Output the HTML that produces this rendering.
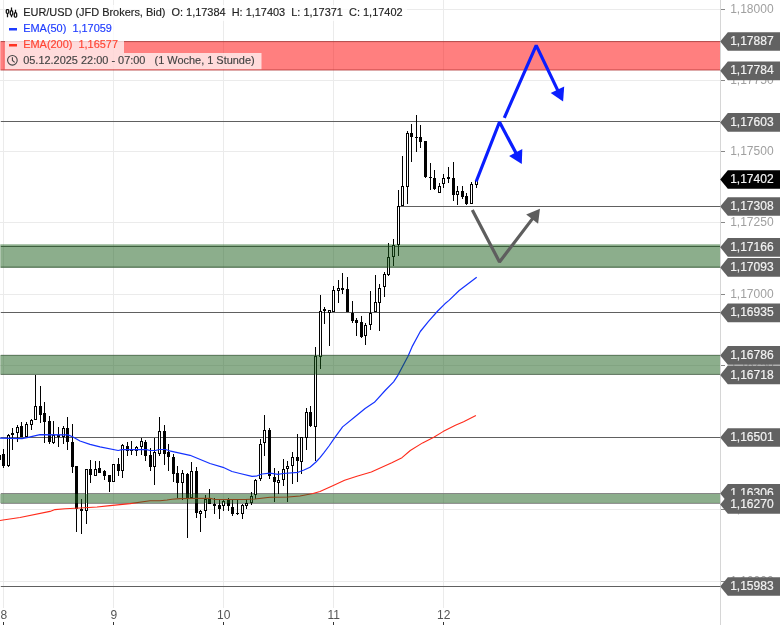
<!DOCTYPE html><html><head><meta charset="utf-8"><title>EUR/USD</title><style>
html,body{margin:0;padding:0;background:#fff;}body{width:780px;height:625px;overflow:hidden;position:relative;font-family:"Liberation Sans",sans-serif;}
svg{position:absolute;left:0;top:0;opacity:0.999;will-change:transform;}text{font-family:"Liberation Sans",sans-serif;}
</style></head><body>
<svg width="780" height="625" viewBox="0 0 780 625">
<rect width="780" height="625" fill="#fff"/>
<g shape-rendering="crispEdges" fill="#ebebeb">
<rect x="3" y="0" width="1" height="608"/>
<rect x="113" y="0" width="1" height="608"/>
<rect x="223" y="0" width="1" height="608"/>
<rect x="333" y="0" width="1" height="608"/>
<rect x="443" y="0" width="1" height="608"/>
<rect x="0" y="9" width="720" height="1"/>
<rect x="0" y="80" width="720" height="1"/>
<rect x="0" y="151" width="720" height="1"/>
<rect x="0" y="222" width="720" height="1"/>
<rect x="0" y="294" width="720" height="1"/>
<rect x="0" y="365" width="720" height="1"/>
<rect x="0" y="437" width="720" height="1"/>
<rect x="0" y="509" width="720" height="1"/>
<rect x="0" y="581" width="720" height="1"/>
</g>
<g shape-rendering="crispEdges" fill="#d6d6d6">
<rect x="720" y="0" width="1" height="625"/>
</g>
<g shape-rendering="crispEdges" fill="#888">
<rect x="721" y="9" width="4" height="1"/>
<rect x="721" y="80" width="4" height="1"/>
<rect x="721" y="151" width="4" height="1"/>
<rect x="721" y="222" width="4" height="1"/>
<rect x="721" y="294" width="4" height="1"/>
<rect x="721" y="365" width="4" height="1"/>
<rect x="721" y="437" width="4" height="1"/>
<rect x="721" y="509" width="4" height="1"/>
<rect x="721" y="581" width="4" height="1"/>
</g>
<g font-size="12" fill="#a0a0a0">
<text x="730.2" y="12.6">1,18000</text>
<text x="730.2" y="83.6">1,17750</text>
<text x="730.2" y="154.6">1,17500</text>
<text x="730.2" y="225.6">1,17250</text>
<text x="730.2" y="297.6">1,17000</text>
<text x="730.2" y="368.6">1,16750</text>
<text x="730.2" y="440.6">1,16500</text>
<text x="730.2" y="512.6">1,16250</text>
<text x="730.2" y="584.6">1,16000</text>
</g>
<g stroke="#606060">
<line x1="0.8" y1="41.6" x2="720" y2="41.6" stroke-width="0.9" stroke="#6e6e6e"/>
<line x1="0.8" y1="69.9" x2="720" y2="69.9" stroke-width="0.9" stroke="#8c8c8c"/>
<line x1="0.8" y1="121.5" x2="720" y2="121.5" stroke-width="1.1" stroke="#606060"/>
<line x1="397.5" y1="206.5" x2="720" y2="206.5" stroke-width="1.1" stroke="#606060"/>
<line x1="0.8" y1="246.5" x2="720" y2="246.5" stroke-width="1.1" stroke="#606060"/>
<line x1="0.8" y1="267.1" x2="720" y2="267.1" stroke-width="0.9" stroke="#606060"/>
<line x1="0.8" y1="312.5" x2="720" y2="312.5" stroke-width="1.1" stroke="#606060"/>
<line x1="0.8" y1="355.3" x2="720" y2="355.3" stroke-width="0.8" stroke="#606060"/>
<line x1="0.8" y1="374.4" x2="720" y2="374.4" stroke-width="0.8" stroke="#606060"/>
<line x1="0.8" y1="437.5" x2="720" y2="437.5" stroke-width="1.1" stroke="#606060"/>
<line x1="0.8" y1="493.5" x2="720" y2="493.5" stroke-width="0.9" stroke="#787878"/>
<line x1="0.8" y1="503.4" x2="720" y2="503.4" stroke-width="0.9" stroke="#787878"/>
<line x1="0.8" y1="586.5" x2="720" y2="586.5" stroke-width="1.1" stroke="#606060"/>
</g>
<g shape-rendering="crispEdges">
<rect x="-1" y="455" width="1" height="5" fill="#000"/>
<rect x="-2" y="455" width="3" height="5" fill="#000"/>
<rect x="3" y="449" width="1" height="19" fill="#000"/>
<rect x="2" y="454" width="3" height="12" fill="#000"/>
<rect x="8" y="434" width="1" height="33" fill="#000"/>
<rect x="7" y="435" width="3" height="31" fill="#000"/>
<rect x="8" y="436" width="1" height="29" fill="#fff"/>
<rect x="12" y="428" width="1" height="22" fill="#000"/>
<rect x="11" y="433" width="3" height="2" fill="#000"/>
<rect x="17" y="425" width="1" height="17" fill="#000"/>
<rect x="16" y="427" width="3" height="6" fill="#000"/>
<rect x="17" y="428" width="1" height="4" fill="#fff"/>
<rect x="21" y="422" width="1" height="15" fill="#000"/>
<rect x="20" y="426" width="3" height="11" fill="#000"/>
<rect x="26" y="422" width="1" height="15" fill="#000"/>
<rect x="25" y="424" width="3" height="13" fill="#000"/>
<rect x="26" y="425" width="1" height="11" fill="#fff"/>
<rect x="31" y="419" width="1" height="11" fill="#000"/>
<rect x="30" y="420" width="3" height="5" fill="#000"/>
<rect x="31" y="421" width="1" height="3" fill="#fff"/>
<rect x="35" y="375" width="1" height="45" fill="#000"/>
<rect x="34" y="406" width="3" height="14" fill="#000"/>
<rect x="35" y="407" width="1" height="12" fill="#fff"/>
<rect x="40" y="386" width="1" height="37" fill="#000"/>
<rect x="39" y="406" width="3" height="9" fill="#000"/>
<rect x="44" y="402" width="1" height="41" fill="#000"/>
<rect x="43" y="413" width="3" height="9" fill="#000"/>
<rect x="49" y="416" width="1" height="28" fill="#000"/>
<rect x="48" y="421" width="3" height="21" fill="#000"/>
<rect x="53" y="421" width="1" height="23" fill="#000"/>
<rect x="52" y="435" width="3" height="8" fill="#000"/>
<rect x="53" y="436" width="1" height="6" fill="#fff"/>
<rect x="58" y="427" width="1" height="20" fill="#000"/>
<rect x="57" y="435" width="3" height="2" fill="#000"/>
<rect x="63" y="426" width="1" height="18" fill="#000"/>
<rect x="62" y="428" width="3" height="9" fill="#000"/>
<rect x="63" y="429" width="1" height="7" fill="#fff"/>
<rect x="67" y="417" width="1" height="33" fill="#000"/>
<rect x="66" y="428" width="3" height="14" fill="#000"/>
<rect x="72" y="424" width="1" height="49" fill="#000"/>
<rect x="71" y="442" width="3" height="25" fill="#000"/>
<rect x="76" y="466" width="1" height="66" fill="#000"/>
<rect x="75" y="466" width="3" height="43" fill="#000"/>
<rect x="81" y="499" width="1" height="35" fill="#000"/>
<rect x="80" y="509" width="3" height="2" fill="#000"/>
<rect x="86" y="469" width="1" height="55" fill="#000"/>
<rect x="85" y="469" width="3" height="42" fill="#000"/>
<rect x="86" y="470" width="1" height="40" fill="#fff"/>
<rect x="90" y="460" width="1" height="23" fill="#000"/>
<rect x="89" y="469" width="3" height="6" fill="#000"/>
<rect x="95" y="461" width="1" height="15" fill="#000"/>
<rect x="94" y="469" width="3" height="7" fill="#000"/>
<rect x="95" y="470" width="1" height="5" fill="#fff"/>
<rect x="99" y="461" width="1" height="12" fill="#000"/>
<rect x="98" y="468" width="3" height="5" fill="#000"/>
<rect x="104" y="470" width="1" height="10" fill="#000"/>
<rect x="103" y="471" width="3" height="5" fill="#000"/>
<rect x="109" y="475" width="1" height="17" fill="#000"/>
<rect x="108" y="475" width="3" height="7" fill="#000"/>
<rect x="113" y="464" width="1" height="18" fill="#000"/>
<rect x="112" y="464" width="3" height="18" fill="#000"/>
<rect x="113" y="465" width="1" height="16" fill="#fff"/>
<rect x="118" y="458" width="1" height="18" fill="#000"/>
<rect x="117" y="464" width="3" height="7" fill="#000"/>
<rect x="122" y="444" width="1" height="34" fill="#000"/>
<rect x="121" y="445" width="3" height="26" fill="#000"/>
<rect x="122" y="446" width="1" height="24" fill="#fff"/>
<rect x="127" y="442" width="1" height="14" fill="#000"/>
<rect x="126" y="446" width="3" height="5" fill="#000"/>
<rect x="131" y="441" width="1" height="14" fill="#000"/>
<rect x="130" y="449" width="3" height="2" fill="#000"/>
<rect x="136" y="446" width="1" height="10" fill="#000"/>
<rect x="135" y="447" width="3" height="4" fill="#000"/>
<rect x="136" y="448" width="1" height="2" fill="#fff"/>
<rect x="141" y="438" width="1" height="17" fill="#000"/>
<rect x="140" y="441" width="3" height="6" fill="#000"/>
<rect x="141" y="442" width="1" height="4" fill="#fff"/>
<rect x="145" y="440" width="1" height="21" fill="#000"/>
<rect x="144" y="442" width="3" height="14" fill="#000"/>
<rect x="150" y="448" width="1" height="23" fill="#000"/>
<rect x="149" y="455" width="3" height="12" fill="#000"/>
<rect x="154" y="438" width="1" height="47" fill="#000"/>
<rect x="153" y="452" width="3" height="15" fill="#000"/>
<rect x="154" y="453" width="1" height="13" fill="#fff"/>
<rect x="159" y="417" width="1" height="39" fill="#000"/>
<rect x="158" y="431" width="3" height="23" fill="#000"/>
<rect x="159" y="432" width="1" height="21" fill="#fff"/>
<rect x="164" y="425" width="1" height="40" fill="#000"/>
<rect x="163" y="431" width="3" height="23" fill="#000"/>
<rect x="168" y="444" width="1" height="27" fill="#000"/>
<rect x="167" y="452" width="3" height="5" fill="#000"/>
<rect x="173" y="454" width="1" height="28" fill="#000"/>
<rect x="172" y="457" width="3" height="17" fill="#000"/>
<rect x="177" y="466" width="1" height="32" fill="#000"/>
<rect x="176" y="473" width="3" height="10" fill="#000"/>
<rect x="182" y="470" width="1" height="30" fill="#000"/>
<rect x="181" y="473" width="3" height="10" fill="#000"/>
<rect x="182" y="474" width="1" height="8" fill="#fff"/>
<rect x="187" y="473" width="1" height="65" fill="#000"/>
<rect x="186" y="474" width="3" height="25" fill="#000"/>
<rect x="191" y="462" width="1" height="36" fill="#000"/>
<rect x="190" y="471" width="3" height="27" fill="#000"/>
<rect x="191" y="472" width="1" height="25" fill="#fff"/>
<rect x="196" y="467" width="1" height="51" fill="#000"/>
<rect x="195" y="471" width="3" height="42" fill="#000"/>
<rect x="200" y="510" width="1" height="22" fill="#000"/>
<rect x="199" y="511" width="3" height="3" fill="#000"/>
<rect x="200" y="512" width="1" height="1" fill="#fff"/>
<rect x="205" y="495" width="1" height="23" fill="#000"/>
<rect x="204" y="499" width="3" height="12" fill="#000"/>
<rect x="205" y="500" width="1" height="10" fill="#fff"/>
<rect x="209" y="489" width="1" height="15" fill="#000"/>
<rect x="208" y="499" width="3" height="5" fill="#000"/>
<rect x="214" y="498" width="1" height="16" fill="#000"/>
<rect x="213" y="504" width="3" height="2" fill="#000"/>
<rect x="219" y="500" width="1" height="19" fill="#000"/>
<rect x="218" y="505" width="3" height="4" fill="#000"/>
<rect x="223" y="500" width="1" height="11" fill="#000"/>
<rect x="222" y="501" width="3" height="5" fill="#000"/>
<rect x="223" y="502" width="1" height="3" fill="#fff"/>
<rect x="228" y="498" width="1" height="13" fill="#000"/>
<rect x="227" y="500" width="3" height="6" fill="#000"/>
<rect x="232" y="500" width="1" height="16" fill="#000"/>
<rect x="231" y="507" width="3" height="7" fill="#000"/>
<rect x="237" y="500" width="1" height="15" fill="#000"/>
<rect x="236" y="513" width="3" height="1" fill="#000"/>
<rect x="242" y="504" width="1" height="15" fill="#000"/>
<rect x="241" y="505" width="3" height="9" fill="#000"/>
<rect x="242" y="506" width="1" height="7" fill="#fff"/>
<rect x="246" y="499" width="1" height="10" fill="#000"/>
<rect x="245" y="503" width="3" height="3" fill="#000"/>
<rect x="246" y="504" width="1" height="1" fill="#fff"/>
<rect x="251" y="492" width="1" height="13" fill="#000"/>
<rect x="250" y="496" width="3" height="7" fill="#000"/>
<rect x="251" y="497" width="1" height="5" fill="#fff"/>
<rect x="255" y="479" width="1" height="20" fill="#000"/>
<rect x="254" y="480" width="3" height="15" fill="#000"/>
<rect x="255" y="481" width="1" height="13" fill="#fff"/>
<rect x="260" y="439" width="1" height="42" fill="#000"/>
<rect x="259" y="444" width="3" height="35" fill="#000"/>
<rect x="260" y="445" width="1" height="33" fill="#fff"/>
<rect x="264" y="415" width="1" height="41" fill="#000"/>
<rect x="263" y="430" width="3" height="13" fill="#000"/>
<rect x="264" y="431" width="1" height="11" fill="#fff"/>
<rect x="269" y="428" width="1" height="51" fill="#000"/>
<rect x="268" y="430" width="3" height="46" fill="#000"/>
<rect x="274" y="468" width="1" height="34" fill="#000"/>
<rect x="273" y="477" width="3" height="5" fill="#000"/>
<rect x="278" y="471" width="1" height="23" fill="#000"/>
<rect x="277" y="480" width="3" height="3" fill="#000"/>
<rect x="278" y="481" width="1" height="1" fill="#fff"/>
<rect x="283" y="459" width="1" height="27" fill="#000"/>
<rect x="282" y="469" width="3" height="11" fill="#000"/>
<rect x="283" y="470" width="1" height="9" fill="#fff"/>
<rect x="287" y="461" width="1" height="41" fill="#000"/>
<rect x="286" y="466" width="3" height="3" fill="#000"/>
<rect x="287" y="467" width="1" height="1" fill="#fff"/>
<rect x="292" y="452" width="1" height="32" fill="#000"/>
<rect x="291" y="457" width="3" height="9" fill="#000"/>
<rect x="292" y="458" width="1" height="7" fill="#fff"/>
<rect x="297" y="434" width="1" height="48" fill="#000"/>
<rect x="296" y="457" width="3" height="4" fill="#000"/>
<rect x="301" y="437" width="1" height="37" fill="#000"/>
<rect x="300" y="437" width="3" height="25" fill="#000"/>
<rect x="301" y="438" width="1" height="23" fill="#fff"/>
<rect x="306" y="408" width="1" height="42" fill="#000"/>
<rect x="305" y="412" width="3" height="26" fill="#000"/>
<rect x="306" y="413" width="1" height="24" fill="#fff"/>
<rect x="310" y="406" width="1" height="21" fill="#000"/>
<rect x="309" y="412" width="3" height="14" fill="#000"/>
<rect x="315" y="347" width="1" height="114" fill="#000"/>
<rect x="314" y="356" width="3" height="71" fill="#000"/>
<rect x="315" y="357" width="1" height="69" fill="#fff"/>
<rect x="320" y="295" width="1" height="74" fill="#000"/>
<rect x="319" y="311" width="3" height="46" fill="#000"/>
<rect x="320" y="312" width="1" height="44" fill="#fff"/>
<rect x="324" y="307" width="1" height="17" fill="#000"/>
<rect x="323" y="309" width="3" height="2" fill="#000"/>
<rect x="329" y="310" width="1" height="36" fill="#000"/>
<rect x="328" y="310" width="3" height="3" fill="#000"/>
<rect x="329" y="311" width="1" height="1" fill="#fff"/>
<rect x="333" y="286" width="1" height="26" fill="#000"/>
<rect x="332" y="290" width="3" height="22" fill="#000"/>
<rect x="333" y="291" width="1" height="20" fill="#fff"/>
<rect x="338" y="280" width="1" height="23" fill="#000"/>
<rect x="337" y="288" width="3" height="3" fill="#000"/>
<rect x="338" y="289" width="1" height="1" fill="#fff"/>
<rect x="342" y="273" width="1" height="21" fill="#000"/>
<rect x="341" y="288" width="3" height="2" fill="#000"/>
<rect x="347" y="277" width="1" height="35" fill="#000"/>
<rect x="346" y="289" width="3" height="23" fill="#000"/>
<rect x="352" y="301" width="1" height="22" fill="#000"/>
<rect x="351" y="313" width="3" height="8" fill="#000"/>
<rect x="356" y="318" width="1" height="18" fill="#000"/>
<rect x="355" y="320" width="3" height="3" fill="#000"/>
<rect x="361" y="316" width="1" height="22" fill="#000"/>
<rect x="360" y="322" width="3" height="15" fill="#000"/>
<rect x="365" y="323" width="1" height="22" fill="#000"/>
<rect x="364" y="325" width="3" height="11" fill="#000"/>
<rect x="365" y="326" width="1" height="9" fill="#fff"/>
<rect x="370" y="291" width="1" height="39" fill="#000"/>
<rect x="369" y="313" width="3" height="12" fill="#000"/>
<rect x="370" y="314" width="1" height="10" fill="#fff"/>
<rect x="375" y="275" width="1" height="37" fill="#000"/>
<rect x="374" y="302" width="3" height="10" fill="#000"/>
<rect x="375" y="303" width="1" height="8" fill="#fff"/>
<rect x="379" y="284" width="1" height="47" fill="#000"/>
<rect x="378" y="288" width="3" height="15" fill="#000"/>
<rect x="379" y="289" width="1" height="13" fill="#fff"/>
<rect x="384" y="272" width="1" height="25" fill="#000"/>
<rect x="383" y="274" width="3" height="13" fill="#000"/>
<rect x="384" y="275" width="1" height="11" fill="#fff"/>
<rect x="388" y="243" width="1" height="33" fill="#000"/>
<rect x="387" y="257" width="3" height="18" fill="#000"/>
<rect x="388" y="258" width="1" height="16" fill="#fff"/>
<rect x="393" y="239" width="1" height="27" fill="#000"/>
<rect x="392" y="245" width="3" height="12" fill="#000"/>
<rect x="393" y="246" width="1" height="10" fill="#fff"/>
<rect x="398" y="190" width="1" height="66" fill="#000"/>
<rect x="397" y="206" width="3" height="39" fill="#000"/>
<rect x="398" y="207" width="1" height="37" fill="#fff"/>
<rect x="402" y="156" width="1" height="50" fill="#000"/>
<rect x="401" y="186" width="3" height="20" fill="#000"/>
<rect x="402" y="187" width="1" height="18" fill="#fff"/>
<rect x="407" y="131" width="1" height="73" fill="#000"/>
<rect x="406" y="133" width="3" height="54" fill="#000"/>
<rect x="407" y="134" width="1" height="52" fill="#fff"/>
<rect x="411" y="124" width="1" height="38" fill="#000"/>
<rect x="410" y="133" width="3" height="4" fill="#000"/>
<rect x="416" y="115" width="1" height="37" fill="#000"/>
<rect x="415" y="137" width="3" height="1" fill="#000"/>
<rect x="420" y="125" width="1" height="23" fill="#000"/>
<rect x="419" y="137" width="3" height="5" fill="#000"/>
<rect x="425" y="141" width="1" height="37" fill="#000"/>
<rect x="424" y="141" width="3" height="36" fill="#000"/>
<rect x="430" y="163" width="1" height="27" fill="#000"/>
<rect x="429" y="177" width="3" height="1" fill="#000"/>
<rect x="434" y="170" width="1" height="20" fill="#000"/>
<rect x="433" y="178" width="3" height="11" fill="#000"/>
<rect x="439" y="183" width="1" height="10" fill="#000"/>
<rect x="438" y="186" width="3" height="7" fill="#000"/>
<rect x="439" y="187" width="1" height="5" fill="#fff"/>
<rect x="443" y="174" width="1" height="14" fill="#000"/>
<rect x="442" y="178" width="3" height="6" fill="#000"/>
<rect x="443" y="179" width="1" height="4" fill="#fff"/>
<rect x="448" y="167" width="1" height="16" fill="#000"/>
<rect x="447" y="177" width="3" height="2" fill="#000"/>
<rect x="453" y="162" width="1" height="39" fill="#000"/>
<rect x="452" y="178" width="3" height="17" fill="#000"/>
<rect x="457" y="186" width="1" height="19" fill="#000"/>
<rect x="456" y="191" width="3" height="4" fill="#000"/>
<rect x="457" y="192" width="1" height="2" fill="#fff"/>
<rect x="462" y="186" width="1" height="13" fill="#000"/>
<rect x="461" y="191" width="3" height="6" fill="#000"/>
<rect x="466" y="193" width="1" height="12" fill="#000"/>
<rect x="465" y="196" width="3" height="8" fill="#000"/>
<rect x="471" y="182" width="1" height="22" fill="#000"/>
<rect x="470" y="184" width="3" height="20" fill="#000"/>
<rect x="471" y="185" width="1" height="18" fill="#fff"/>
<rect x="476" y="179" width="1" height="9" fill="#000"/>
<rect x="475" y="180" width="3" height="5" fill="#000"/>
<rect x="476" y="181" width="1" height="3" fill="#fff"/>
</g>
<polyline points="0.0,520.5 3.0,520.0 20.0,517.5 50.0,511.4 55.0,509.6 65.0,508.8 80.0,508.0 97.0,507.0 110.0,505.6 130.0,503.6 150.0,500.8 160.0,500.8 167.0,500.0 172.0,499.3 180.0,498.6 210.0,498.2 215.0,499.5 245.0,499.5 255.0,499.0 270.0,497.3 288.0,497.0 300.0,496.0 313.0,493.5 320.0,491.5 333.3,485.4 344.6,480.3 356.9,476.2 371.3,472.0 391.8,462.8 402.0,457.7 410.3,450.5 422.6,442.9 433.8,437.2 443.0,431.6 455.4,425.3 463.6,421.8 475.9,415.6" fill="none" stroke="#ff2a1a" stroke-width="1.1" stroke-linejoin="round"/>
<polyline points="0.0,438.2 22.0,438.7 27.0,437.7 40.0,434.7 68.0,434.9 73.0,437.0 80.0,441.0 90.0,444.4 100.0,446.8 118.2,450.5 122.0,449.7 146.4,449.7 150.3,450.5 155.4,450.5 159.2,449.5 165.6,449.5 169.5,450.8 190.0,455.3 210.0,463.5 223.0,467.3 232.0,471.5 240.0,473.5 252.0,476.3 256.0,476.2 262.0,474.0 270.0,473.2 278.0,474.4 283.0,473.5 298.0,472.3 304.0,470.0 310.0,467.3 316.0,462.0 320.0,457.6 324.0,452.6 329.0,446.0 334.4,438.2 342.6,426.9 356.9,415.2 365.1,408.5 374.4,402.3 385.6,390.0 393.6,381.8 397.7,375.6 408.0,356.2 412.0,346.9 420.3,331.5 428.5,321.3 437.7,311.0 444.9,303.8 449.0,300.4 459.2,290.5 476.7,277.2" fill="none" stroke="#1432ff" stroke-width="1.2" stroke-linejoin="round"/>
<rect x="0.3" y="41.2" width="719.7" height="29.2" fill="#ff0000" fill-opacity="0.5"/>
<rect x="0.3" y="244.3" width="719.7" height="23.5" fill="#1a5e1a" fill-opacity="0.5"/>
<rect x="0.3" y="355.1" width="719.7" height="19.5" fill="#1a5e1a" fill-opacity="0.5"/>
<rect x="0.3" y="494" width="719.7" height="9" fill="#1a5e1a" fill-opacity="0.5"/>
<polyline points="476.2,181.5 499.5,122.0 516.9,154.8" fill="none" stroke="#0a1eff" stroke-width="3.2" stroke-linejoin="bevel"/><polygon points="521.8,164.0 509.1,156.0 522.3,149.0" fill="#0a1eff"/>
<polyline points="504.3,117.8 536.2,45.4 558.6,92.1" fill="none" stroke="#0a1eff" stroke-width="3.2" stroke-linejoin="bevel"/><polygon points="563.1,101.5 550.7,93.0 564.2,86.5" fill="#0a1eff"/>
<polyline points="472.3,210.0 499.5,262.0 533.7,217.1" fill="none" stroke="#5e5e5e" stroke-width="3.2" stroke-linejoin="bevel"/><polygon points="540.0,208.8 538.1,223.7 526.2,214.6" fill="#5e5e5e"/>
<polygon points="720.2,41.5 727.8,32.15 780,32.15 780,50.85 727.8,50.85" fill="#626262"/><text x="730.2" y="45.1" font-size="12" fill="#f2f2f2" stroke="#f2f2f2" stroke-width="0.2">1,17887</text>
<polygon points="720.2,70.8 727.8,61.45 780,61.45 780,80.15 727.8,80.15" fill="#626262"/><text x="730.2" y="74.4" font-size="12" fill="#f2f2f2" stroke="#f2f2f2" stroke-width="0.2">1,17784</text>
<polygon points="720.2,122.4 727.8,113.05 780,113.05 780,131.75 727.8,131.75" fill="#626262"/><text x="730.2" y="126.0" font-size="12" fill="#f2f2f2" stroke="#f2f2f2" stroke-width="0.2">1,17603</text>
<polygon points="720.2,206.5 727.8,197.15 780,197.15 780,215.85 727.8,215.85" fill="#626262"/><text x="730.2" y="210.1" font-size="12" fill="#f2f2f2" stroke="#f2f2f2" stroke-width="0.2">1,17308</text>
<polygon points="720.2,247.3 727.8,237.95 780,237.95 780,256.65 727.8,256.65" fill="#626262"/><text x="730.2" y="250.9" font-size="12" fill="#f2f2f2" stroke="#f2f2f2" stroke-width="0.2">1,17166</text>
<polygon points="720.2,267.4 727.8,258.05 780,258.05 780,276.75 727.8,276.75" fill="#626262"/><text x="730.2" y="271.0" font-size="12" fill="#f2f2f2" stroke="#f2f2f2" stroke-width="0.2">1,17093</text>
<polygon points="720.2,312.8 727.8,303.45 780,303.45 780,322.15 727.8,322.15" fill="#626262"/><text x="730.2" y="316.4" font-size="12" fill="#f2f2f2" stroke="#f2f2f2" stroke-width="0.2">1,16935</text>
<polygon points="720.2,355.4 727.8,346.05 780,346.05 780,364.75 727.8,364.75" fill="#626262"/><text x="730.2" y="359.0" font-size="12" fill="#f2f2f2" stroke="#f2f2f2" stroke-width="0.2">1,16786</text>
<polygon points="720.2,374.9 727.8,365.55 780,365.55 780,384.25 727.8,384.25" fill="#626262"/><text x="730.2" y="378.5" font-size="12" fill="#f2f2f2" stroke="#f2f2f2" stroke-width="0.2">1,16718</text>
<polygon points="720.2,437.5 727.8,428.15 780,428.15 780,446.85 727.8,446.85" fill="#626262"/><text x="730.2" y="441.1" font-size="12" fill="#f2f2f2" stroke="#f2f2f2" stroke-width="0.2">1,16501</text>
<polygon points="720.2,493.4 727.8,484.05 780,484.05 780,502.75 727.8,502.75" fill="#626262"/><text x="730.2" y="497.0" font-size="12" fill="#f2f2f2" stroke="#f2f2f2" stroke-width="0.2">1,16306</text>
<polygon points="720.2,504.4 727.8,495.05 780,495.05 780,513.75 727.8,513.75" fill="#626262"/><text x="730.2" y="508.0" font-size="12" fill="#f2f2f2" stroke="#f2f2f2" stroke-width="0.2">1,16270</text>
<polygon points="720.2,586.5 727.8,577.15 780,577.15 780,595.85 727.8,595.85" fill="#626262"/><text x="730.2" y="590.1" font-size="12" fill="#f2f2f2" stroke="#f2f2f2" stroke-width="0.2">1,15983</text>
<polygon points="720.2,179.5 727.8,170.15 780,170.15 780,188.85 727.8,188.85" fill="#000"/><text x="730.2" y="183.1" font-size="12" fill="#f2f2f2" stroke="#f2f2f2" stroke-width="0.2">1,17402</text>
<g font-size="12" fill="#555">
<text x="3.8" y="618.6" text-anchor="middle">8</text>
<text x="113.8" y="618.6" text-anchor="middle">9</text>
<text x="223.8" y="618.6" text-anchor="middle">10</text>
<text x="333.8" y="618.6" text-anchor="middle">11</text>
<text x="443.8" y="618.6" text-anchor="middle">12</text>
</g>
<g shape-rendering="crispEdges" fill="#333">
<rect x="3" y="622" width="1" height="3"/>
<rect x="113" y="622" width="1" height="3"/>
<rect x="223" y="622" width="1" height="3"/>
<rect x="333" y="622" width="1" height="3"/>
<rect x="443" y="622" width="1" height="3"/>
</g>
<rect x="5" y="5" width="402" height="16" fill="#fff" fill-opacity="0.72"/>
<rect x="5" y="21" width="112" height="16" fill="#fff" fill-opacity="0.72"/>
<rect x="5" y="37" width="119" height="16" fill="#fff" fill-opacity="0.72"/>
<rect x="5" y="53" width="256.5" height="16.2" fill="#fff" fill-opacity="0.72"/>
<g font-size="10.94">
<text x="23.2" y="16.2" fill="#222" stroke="#222" stroke-width="0.15">EUR/USD (JFD Brokers, Bid)&#160; O: 1,17384&#160; H: 1,17403&#160; L: 1,17371&#160; C: 1,17402</text>
<text x="23.2" y="32.2" fill="#1f3cff" stroke="#1f3cff" stroke-width="0.15">EMA(50)&#160; 1,17059</text>
<text x="23.2" y="48.2" fill="#ff4433" stroke="#ff4433" stroke-width="0.15">EMA(200)&#160; 1,16577</text>
<text x="23.2" y="64.2" fill="#444" stroke="#444" stroke-width="0.15">05.12.2025 22:00 - 07:00&#160;&#160; (1 Woche, 1 Stunde)</text>
</g>
<rect x="9" y="28" width="8" height="2.5" fill="#1f3cff"/>
<rect x="9" y="44" width="8" height="2.5" fill="#ff3322"/>
<g fill="none" stroke="#111" stroke-width="1.25"><path d="M7.5 13.3v4M11.5 7.5v3.4M11.5 15v2.3M15.5 9.8v3.1"/><rect x="6.3" y="9.5" width="2.4" height="3.8" rx="0.8" fill="#fff"/><rect x="10.3" y="10.9" width="2.4" height="4.1" rx="0.8" fill="#fff"/><rect x="14.3" y="12.9" width="2.4" height="4.2" rx="0.8" fill="#fff"/></g>
<g fill="none" stroke="#444" stroke-width="1.1"><circle cx="12.4" cy="60.3" r="4.8"/><path d="M12.4 57.2v3.3l2.3 1.9"/></g>
</svg></body></html>
